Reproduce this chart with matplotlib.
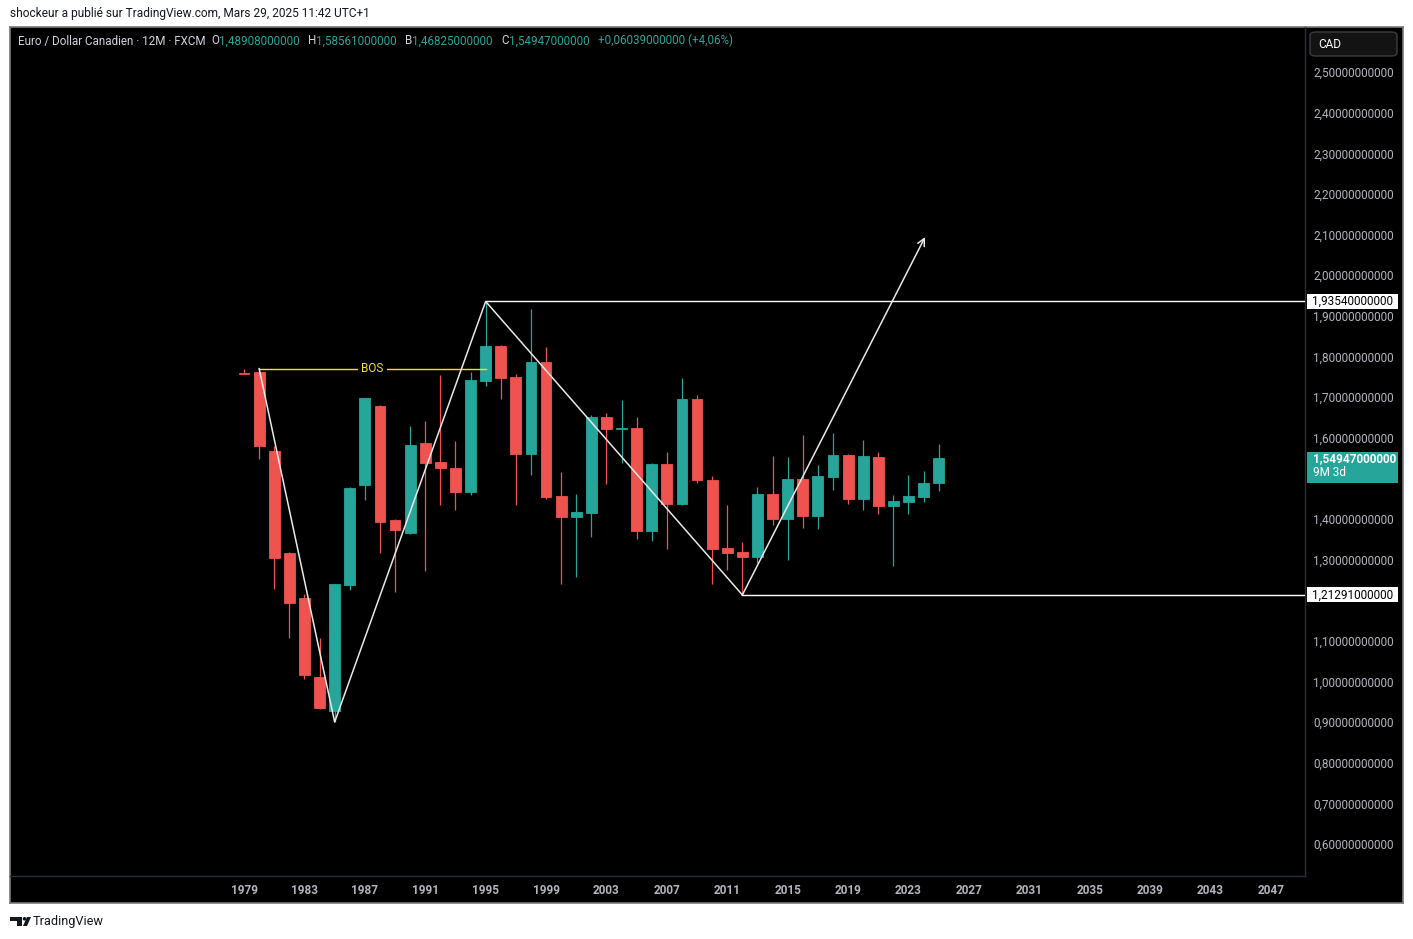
import matplotlib
matplotlib.use("Agg")
import matplotlib.pyplot as plt
import matplotlib.transforms as mtransforms
from matplotlib.patches import Rectangle, FancyBboxPatch, Polygon, Circle
from matplotlib.ticker import FuncFormatter, FixedLocator

plt.rcParams['font.family'] = ['Roboto', 'DejaVu Sans']

# yearly candles EUR/CAD (12M, FXCM)
years = list(range(1979, 2026))
opens = [1.760, 1.762, 1.567, 1.316, 1.205, 1.011, 0.928, 1.238, 1.484, 1.678,
         1.397, 1.366, 1.587, 1.540, 1.525, 1.466, 1.740, 1.826, 1.749, 1.561,
         1.786, 1.456, 1.405, 1.415, 1.651, 1.622, 1.624, 1.371, 1.535, 1.437,
         1.695, 1.496, 1.329, 1.319, 1.307, 1.461, 1.401, 1.498, 1.408, 1.504,
         1.557, 1.450, 1.553, 1.432, 1.442, 1.454, 1.48908]
highs = [1.769, 1.770, 1.580, 1.318, 1.215, 1.107, 1.240, 1.478, 1.698, 1.680,
         1.399, 1.629, 1.641, 1.754, 1.592, 1.762, 1.9354, 1.828, 1.756, 1.917,
         1.823, 1.516, 1.461, 1.655, 1.661, 1.693, 1.651, 1.537, 1.565, 1.747,
         1.705, 1.506, 1.434, 1.343, 1.479, 1.555, 1.553, 1.607, 1.533, 1.612,
         1.560, 1.594, 1.565, 1.459, 1.508, 1.518, 1.58561]
lows = [1.757, 1.548, 1.228, 1.108, 1.006, 0.933, 0.900, 1.225, 1.447, 1.316,
        1.220, 1.362, 1.272, 1.434, 1.422, 1.459, 1.727, 1.696, 1.434, 1.509,
        1.449, 1.240, 1.258, 1.356, 1.487, 1.538, 1.351, 1.346, 1.327, 1.435,
        1.489, 1.240, 1.275, 1.21291, 1.292, 1.386, 1.299, 1.378, 1.376, 1.472,
        1.437, 1.422, 1.413, 1.285, 1.413, 1.442, 1.46825]
closes = [1.758, 1.580, 1.304, 1.194, 1.017, 0.935, 1.240, 1.476, 1.698, 1.393,
          1.373, 1.582, 1.538, 1.525, 1.466, 1.742, 1.826, 1.747, 1.561, 1.786,
          1.455, 1.405, 1.417, 1.651, 1.622, 1.624, 1.371, 1.535, 1.437, 1.695,
          1.495, 1.327, 1.317, 1.307, 1.461, 1.401, 1.498, 1.408, 1.506, 1.557,
          1.450, 1.555, 1.432, 1.444, 1.456, 1.489, 1.54947]

# price scale ticks and time scale ticks
price_ticks = [0.6, 0.7, 0.8, 0.9, 1.0, 1.1, 1.2, 1.3, 1.4, 1.5, 1.6, 1.7, 1.8,
               1.9, 2.0, 2.1, 2.2, 2.3, 2.4, 2.5]
hidden_ticks = [1.2, 1.5]   # covered by the price labels
year_ticks = list(range(1979, 2048, 4))

# drawings
zigzag_years = [1980, 1985, 1995, 2012]
zigzag_values = [1.770, 0.900, 1.9354, 1.21291]
arrow_year, arrow_value = 2024.1, 2.094
bos_start, bos_end, bos_level = 1980, 1995, 1.770
level_high, level_high_year = 1.9354, 1995
level_low, level_low_year = 1.21291, 2012
last_price = 1.54947

W, H = 1413, 939
UP = '#26a69a'
DOWN = '#ef5350'
GREY = '#b2b5be'
LIGHT = '#d1d4dc'
FS = 8.5

fig = plt.figure(figsize=(W / 100, H / 100), dpi=100, facecolor='white')

# black panel with border
frame = fig.add_axes([10 / W, 1 - 903 / H, 1393 / W, 876 / H])
frame.set_facecolor('black')
frame.set_xticks([])
frame.set_yticks([])
for s in frame.spines.values():
    s.set_color('#7a7a7a')
    s.set_linewidth(1.2)

ax = fig.add_axes([10 / W, 1 - 876 / H, 1295 / W, 849 / H])
ax.set_facecolor('none')
ax.set_xlim(1963.5, 2049.26)
ax.set_ylim(0.521, 2.611)
for k in ('top', 'left'):
    ax.spines[k].set_visible(False)
for k in ('right', 'bottom'):
    ax.spines[k].set_color('#2a2e39')
    ax.spines[k].set_linewidth(1)


def price_fmt(v, p=None):
    if any(abs(v - h) < 1e-6 for h in hidden_ticks):
        return ''
    return f"{v:.11f}".replace('.', ',')


ax.yaxis.tick_right()
ax.yaxis.set_major_locator(FixedLocator(price_ticks))
ax.yaxis.set_major_formatter(FuncFormatter(price_fmt))
ax.xaxis.set_major_locator(FixedLocator(year_ticks))
ax.xaxis.set_major_formatter(FuncFormatter(lambda v, p: f"{int(round(v))}"))
ax.tick_params(axis='y', length=0, pad=5.8, labelsize=FS, labelcolor=GREY)
ax.tick_params(axis='x', length=0, pad=6.0, labelsize=FS, labelcolor=GREY)
for lbl in ax.get_xticklabels():
    lbl.set_fontweight('bold')

# candles
colors = [UP if c >= o else DOWN for o, c in zip(opens, closes)]
ax.vlines(years, lows, highs, colors=colors, linewidth=0.9, zorder=3)
bottoms = [min(o, c) for o, c in zip(opens, closes)]
heights = [abs(c - o) for o, c in zip(opens, closes)]
ax.bar(years, heights, bottom=bottoms, width=0.72, color=colors,
       edgecolor=colors, linewidth=0.6, zorder=4)

# zigzag + arrow
line_c = '#e8e8e8'
ax.plot(zigzag_years, zigzag_values, color=line_c, lw=1.1, zorder=6)
ax.annotate('', xy=(arrow_year, arrow_value), xytext=(zigzag_years[-1], zigzag_values[-1]),
            arrowprops=dict(arrowstyle='->', color=line_c, lw=1.1, shrinkA=0, shrinkB=0,
                            mutation_scale=13), zorder=6)

# horizontal levels
xr = ax.get_xlim()[1]
ax.plot([level_high_year, xr], [level_high, level_high], color='white', lw=1, zorder=6)
ax.plot([level_low_year, xr], [level_low, level_low], color='white', lw=1, zorder=6)

# BOS
ax.plot([bos_start, bos_end], [bos_level, bos_level], color='#f5e31a', lw=1, zorder=5)
ax.text((bos_start + bos_end) / 2, bos_level, 'BOS', color='#f5e31a', fontsize=8.5,
        ha='center', va='center', zorder=7,
        bbox=dict(boxstyle='square,pad=0.3', fc='black', ec='none'))

# price labels on the right scale
y0, y1 = ax.get_ylim()
dpp = (y1 - y0) / 849.0
bt = mtransforms.blended_transform_factory(ax.transAxes, ax.transData)
fx = lambda px: 1 + px / 1295.0

for lev in (level_high, level_low):
    ax.add_patch(Rectangle((fx(2), lev - 7.5 * dpp), 91 / 1295, 15 * dpp, transform=bt,
                           fc='white', ec='none', clip_on=False, zorder=8))
    ax.text(fx(47.5), lev, f"{lev:.11f}".replace('.', ','), transform=bt, color='black',
            fontsize=FS, ha='center', va='center', zorder=9, clip_on=False)

ax.add_patch(Rectangle((fx(2), last_price - 25 * dpp), 91 / 1295, 31 * dpp, transform=bt,
                       fc=UP, ec='none', clip_on=False, zorder=8))
ax.text(fx(8), last_price, f"{last_price:.11f}".replace('.', ','), transform=bt,
        color='white', fontsize=FS, fontweight='bold', ha='left', va='center',
        zorder=9, clip_on=False)
ax.text(fx(8), last_price - 14 * dpp, '9M 3d', transform=bt, color='white',
        fontsize=FS, ha='left', va='center', zorder=9, clip_on=False)

# CAD box
fig.patches.append(FancyBboxPatch((1310 / W, 1 - 56 / H), 87 / W, 24 / H,
                                  boxstyle='round,pad=0,rounding_size=0.004',
                                  transform=fig.transFigure, fc='#131313', ec='#3a3d45',
                                  lw=1, zorder=10))
fig.text(1318 / W, 1 - 44 / H, 'CAD', color='white', fontsize=FS, va='center',
         ha='left', zorder=11)

# header
fig.text(10 / W, 1 - 14 / H, 'shockeur a publié sur TradingView.com, Mars 29, 2025 11:42 UTC+1',
         color='#131722', fontsize=8.6, va='center', ha='left')
parts = [('Euro / Dollar Canadien · 12M · FXCM', LIGHT, 0),
         ('O', LIGHT, 4), ('1,48908000000', UP, 0),
         ('H', LIGHT, 6), ('1,58561000000', UP, 0),
         ('B', LIGHT, 6), ('1,46825000000', UP, 0),
         ('C', LIGHT, 6), ('1,54947000000', UP, 0),
         ('+0,06039000000 (+4,06%)', UP, 6)]
prev = ax.text(18 / W, 1 - 41 / H, parts[0][0], color=parts[0][1], fontsize=8.4,
               va='center', ha='left', zorder=11, transform=fig.transFigure)
for txt, col, gap in parts[1:]:
    prev = ax.annotate(txt, xy=(1, 0), xycoords=prev, xytext=(gap, 0),
                       textcoords='offset points', color=col, fontsize=8.4,
                       va='bottom', ha='left', annotation_clip=False, zorder=11)

# footer logo
logo = [Polygon([(10, 917), (22, 917), (22, 926), (17, 926), (17, 920.5), (10, 920.5)], closed=True),
        Circle((24.5, 918.8), 1.8),
        Polygon([(27, 917), (31, 917), (27, 926), (23, 926)], closed=True)]
for p in logo:
    p.set_transform(mtransforms.Affine2D().scale(1 / W, -1 / H).translate(0, 1) + fig.transFigure)
    p.set_facecolor('#131722')
    p.set_edgecolor('none')
    fig.patches.append(p)
fig.text(33 / W, 1 - 921 / H, 'TradingView', color='#131722', fontsize=9.2, va='center', ha='left')

fig.savefig('out.png', dpi=100, facecolor='white')
plt.close(fig)
